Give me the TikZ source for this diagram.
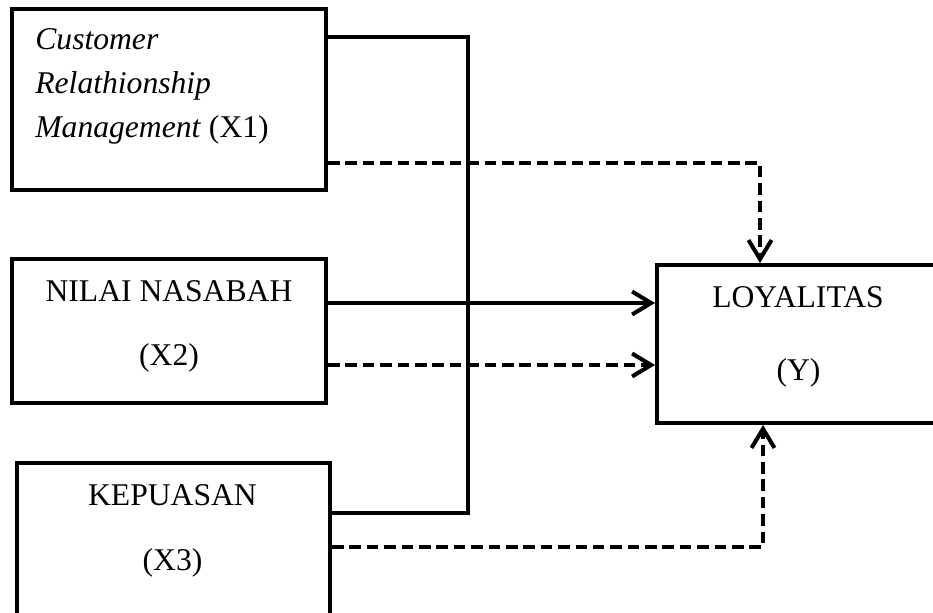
\documentclass[tikz,border=0pt]{standalone}
\usepackage{fontspec}
\setmainfont{Liberation Serif}
\usetikzlibrary{arrows.meta}

\tikzset{
	kotak/.style={draw, line width=2.3pt, inner sep=0pt},
	teks/.style={font=\fontsize{18}{22}\selectfont, inner sep=0pt},
	garis/.style={line width=2.3pt},
	putus/.style={line width=2.3pt, dash pattern=on 6.6pt off 3.3pt},
	panah/.style={-{Straight Barb[length=3.8mm, width=4.6mm]}}
}

\begin{document}
\begin{tikzpicture}[x=0.02cm, y=-0.02cm]
				\useasboundingbox (0,0) rectangle (933,612);
				\clip (0,0) rectangle (933,612);
				% kotak variabel
				\node[kotak, minimum width=6.28cm, minimum height=3.62cm] (x1) at (169,99.5) {};
				\node[kotak, minimum width=6.28cm, minimum height=2.88cm] (x2) at (169,331) {};
				\node[kotak, minimum width=6.26cm, minimum height=3.74cm] (x3) at (173.5,556.5) {};
				\node[kotak, minimum width=6.06cm, minimum height=3.16cm] (y) at (808.5,344) {};
				% teks
				\node[teks, anchor=base west] (t1a) at (35,50) {\textit{Customer}};
				\node[teks, anchor=base west] (t1b) at (35,93) {\textit{Relathionship}};
				\node[teks, anchor=base west] (t1c) at (35,137) {\textit{Management} (X1)};
				\node[teks, anchor=base] (t2a) at (169,301) {NILAI NASABAH};
				\node[teks, anchor=base] (t2b) at (169,365) {(X2)};
				\node[teks, anchor=base] (t3a) at (172.5,505) {KEPUASAN};
				\node[teks, anchor=base] (t3b) at (172.5,570) {(X3)};
				\node[teks, anchor=base] (tya) at (798,307) {LOYALITAS};
				\node[teks, anchor=base] (tyb) at (798.5,380) {(Y)};
				% garis penghubung
				\coordinate (atas) at (468,37);
				\coordinate (bawah) at (468,513);
				\draw[garis] (x1.east |- atas) -- (atas) -- (bawah) -- (x3.east |- bawah);
				\coordinate (p1) at (760,163);
				\draw[putus, panah] (x1.east |- p1) -- (p1) -- (y.north -| p1);
				\coordinate (p2) at (0,303);
				\draw[garis, panah] (x2.east |- p2) -- (y.west |- p2);
				\coordinate (p3) at (0,365);
				\draw[putus, panah] (x2.east |- p3) -- (y.west |- p3);
				\coordinate (p4) at (763,547);
				\draw[putus, panah] (x3.east |- p4) -- (p4) -- (y.south -| p4);
\end{tikzpicture}
\end{document}
